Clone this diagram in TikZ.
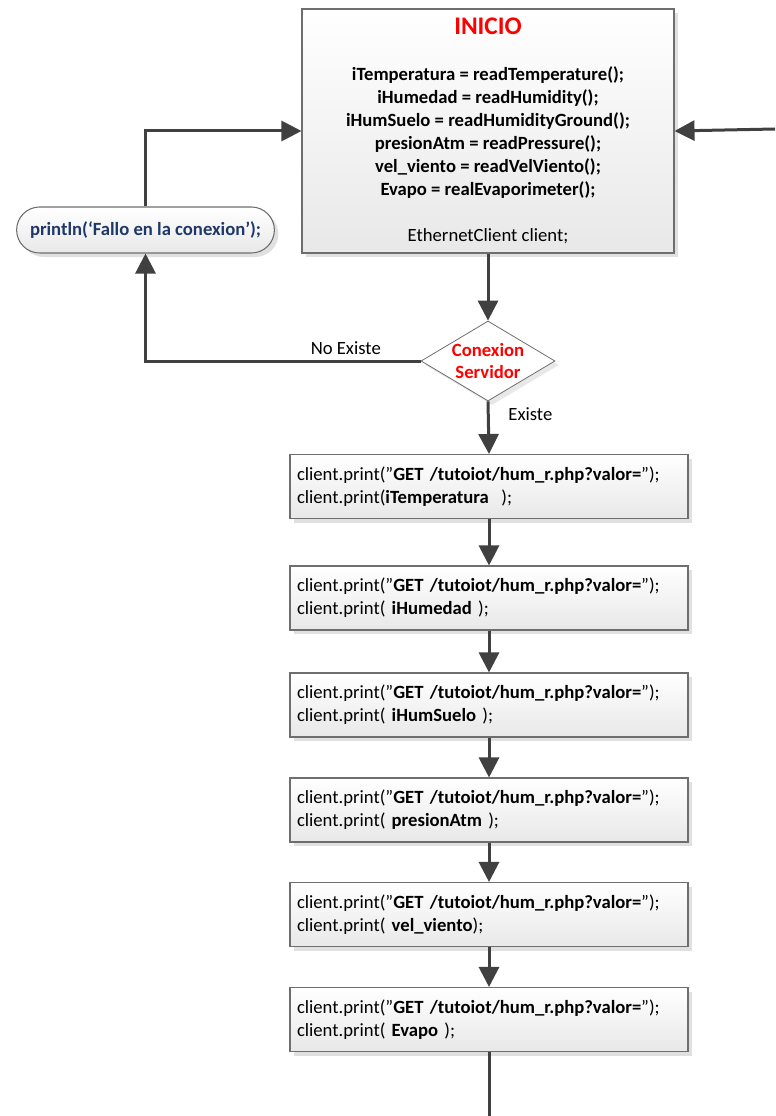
\documentclass[tikz,border=0pt]{standalone}
\usepackage{fontspec}
\setmainfont{Carlito}
\usetikzlibrary{arrows.meta,shapes.geometric,shapes.misc,shadows}

\definecolor{linegray}{HTML}{404040}
\definecolor{edgegray}{HTML}{6E6E6E}
\definecolor{codeblue}{HTML}{1F3868}

\newcommand{\codefont}{\fontsize{14}{17.25}\selectfont}
\newcommand{\getline}{client.print("\textbf{GET /tutoiot/hum\_r.php?valor=}");}

\begin{document}
\begin{tikzpicture}[x=0.75pt, y=-0.75pt,
    flow/.style={draw=linegray, line width=2.25pt, -{Triangle[length=15pt, width=15pt]}},
    plain/.style={draw=linegray, line width=2.25pt},
    shade/.style={top color=white, bottom color=black!9, drop shadow={shadow xshift=3pt, shadow yshift=-3pt, fill=black!20, opacity=0.6}},
    procbox/.style={rectangle, draw=edgegray, line width=0.8pt, shade, minimum height=48pt,
      text width=288pt, inner xsep=5.25pt, align=left, font=\codefont},
    startbox/.style={rectangle, draw=edgegray, line width=0.8pt, shade, minimum width=279pt,
      minimum height=183pt, align=center, font=\codefont\bfseries},
    errorbox/.style={rounded rectangle, draw=edgegray, line width=0.8pt, shade, minimum width=200pt,
      minimum height=34.5pt, text=codeblue, font=\codefont\bfseries},
    decision/.style={diamond, draw=edgegray, line width=0.6pt, fill=white, minimum width=100.5pt,
      minimum height=60pt, inner sep=0pt,
      drop shadow={shadow xshift=3pt, shadow yshift=-3pt, fill=black!15, opacity=0.6}},
    decisiontext/.style={align=center, text=red, font=\codefont\bfseries},
    tag/.style={font=\codefont, inner sep=2pt}
  ]
  \useasboundingbox (0,0) rectangle (775,1116);

  % start block
  \node[startbox] (inicio) at (488,131) {{\fontsize{19}{22}\selectfont\color{red}INICIO}\\[17pt]
    iTemperatura = readTemperature();\\
    iHumedad = readHumidity();\\
    iHumSuelo = readHumidityGround();\\
    presionAtm = readPressure();\\
    vel\_viento = readVelViento();\\
    Evapo = realEvaporimeter();\\[17.25pt]
    \mdseries EthernetClient client;};
  \node[errorbox] (fallo) at (145.5,230) {println(‘Fallo en la conexion’);};
  \node[decision, label={[decisiontext]center:Conexion\\[-0.75pt]Servidor}] (conexion) at (488,361) {};

  % one box per reading
  \node[procbox] (temp)   at (489,486.5) {\getline\\client.print(\textbf{iTemperatura}\ \ );};
  \node[procbox] (hum)    at (489,598)   {\getline\\client.print( \textbf{iHumedad} );};
  \node[procbox] (suelo)  at (489,705)   {\getline\\client.print( \textbf{iHumSuelo} );};
  \node[procbox] (presion) at (489,810)  {\getline\\client.print( \textbf{presionAtm} );};
  \node[procbox] (viento) at (489,914.5) {\getline\\client.print( \textbf{vel\_viento});};
  \node[procbox] (evapo)  at (489,1019.5) {\getline\\client.print( \textbf{Evapo} );};

  \coordinate (loopin) at (775,129);
  \coordinate (fin) at (489,1116);

  \draw[flow] (loopin) -- (inicio.east);
  \draw[flow] (fallo.north) |- (inicio.west);
  \draw[flow] (inicio.south) -- (conexion.north);
  \draw[flow] (conexion.west) -| node[tag, pos=0.136, above, yshift=2pt] {No Existe} (fallo.south);
  \draw[flow] (conexion.south) -- node[tag, pos=0.24, anchor=west, xshift=12pt] {Existe} (temp.north);
  \draw[flow] (temp) -- (hum);
  \draw[flow] (hum) -- (suelo);
  \draw[flow] (suelo) -- (presion);
  \draw[flow] (presion) -- (viento);
  \draw[flow] (viento) -- (evapo);
  \draw[plain] (evapo) -- (fin);
\end{tikzpicture}
\end{document}
